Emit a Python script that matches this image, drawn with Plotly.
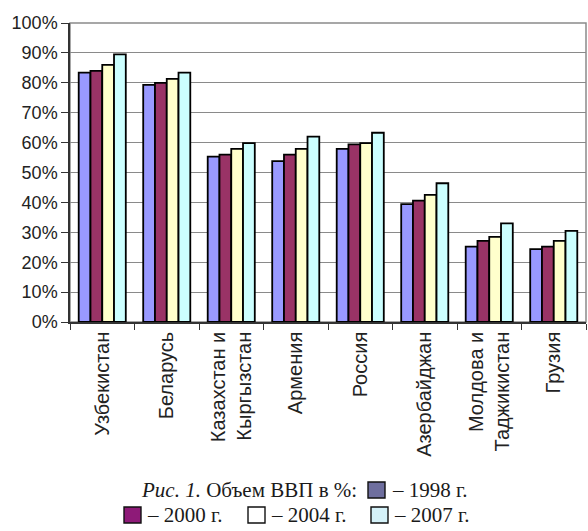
import plotly.graph_objects as go

countries = ["Узбекистан", "Беларусь", "Казахстан и<br>Кыргызстан", "Армения", "Россия",
             "Азербайджан", "Молдова и<br>Таджикистан", "Грузия"]
years = ["1998 г.", "2000 г.", "2004 г.", "2007 г."]
v1998 = [83.4, 79.3, 55.3, 53.8, 57.9, 39.4, 25.2, 24.4]
v2000 = [84.0, 80.0, 56.0, 56.0, 59.4, 40.6, 27.1, 25.2]
v2004 = [86.0, 81.3, 57.9, 57.9, 59.8, 42.5, 28.5, 27.1]
v2007 = [89.5, 83.4, 59.8, 62.0, 63.3, 46.4, 33.0, 30.5]
y_ticks = [0, 10, 20, 30, 40, 50, 60, 70, 80, 90, 100]
y_tick_labels = [f"{t}%" for t in y_ticks]

series = [v1998, v2000, v2004, v2007]
bar_colors = ["#9999FF", "#993366", "#FFFFCC", "#CCFFFF"]
swatch_colors = ["#6E6E9E", "#8E1A78", "#FFFFFF", "#D4F1F8"]

W, H = 588, 531
L, R, T, B = 70, 586, 23, 322

fig = go.Figure()
for name, vals, col in zip(years, series, bar_colors):
    fig.add_trace(go.Bar(x=countries, y=vals, name=name,
                         marker=dict(color=col, line=dict(color="#000000", width=1.8))))

def px_x(p):
    return (p - L) / (R - L)

def px_y(p):
    return (B - p) / (B - T)

annotations = []
shapes = [dict(type="rect", xref="paper", yref="paper", x0=0, x1=1, y0=0, y1=1,
               line=dict(color="#8a8a8a", width=1.5), fillcolor="rgba(0,0,0,0)", layer="below")]
cap_font = dict(family="Liberation Serif", size=21, color="#1a1a1a")

annotations.append(dict(text="<i>Рис. 1.</i> Объем ВВП в %:", x=px_x(359), y=px_y(490), xref="paper", yref="paper",
                        xanchor="right", yanchor="middle", showarrow=False, font=cap_font))
items = [
    (368, 482, "– " + years[0], 390, swatch_colors[0], 490),
    (124, 507, "– " + years[1], 145, swatch_colors[1], 515),
    (248, 507, "– " + years[2], 269, swatch_colors[2], 515),
    (371, 507, "– " + years[3], 392, swatch_colors[3], 515),
]
for sx, sy, txt, tx, col, ty in items:
    shapes.append(dict(type="rect", xref="paper", yref="paper", x0=px_x(sx), x1=px_x(sx + 17),
                       y0=px_y(sy), y1=px_y(sy + 16), fillcolor=col, line=dict(color="#111111", width=1.4)))
    annotations.append(dict(text=txt, x=px_x(tx), y=px_y(ty), xref="paper", yref="paper",
                            xanchor="left", yanchor="middle", showarrow=False, font=cap_font))

fig.update_layout(
    width=W, height=H,
    margin=dict(l=L, r=W - R, t=T, b=H - B, autoexpand=False),
    paper_bgcolor="white", plot_bgcolor="white",
    barmode="group", bargap=0.27, bargroupgap=0,
    showlegend=False,
    font=dict(family="Liberation Sans", color="#222222"),
    shapes=shapes, annotations=annotations,
)
fig.update_xaxes(type="category", tickangle=-90, tickfont=dict(size=20, family="Liberation Sans"),
                 showline=True, linecolor="#333333", linewidth=1.5,
                 ticks="outside", tickson="boundaries", ticklen=6, tickcolor="#333333",
                 showgrid=False, automargin=False)
fig.update_yaxes(range=[0, 100], tickvals=y_ticks, ticktext=y_tick_labels,
                 tickfont=dict(size=18, family="Liberation Sans"),
                 showline=True, linecolor="#333333", linewidth=1.5,
                 ticks="outside", ticklen=7, tickcolor="#333333",
                 showgrid=True, gridcolor="#8a8a8a", gridwidth=1.3, zeroline=False, automargin=False)

fig.write_html("out.html", config={"displayModeBar": False},
               post_script="document.body.style.margin='0';document.body.style.overflow='hidden';")
